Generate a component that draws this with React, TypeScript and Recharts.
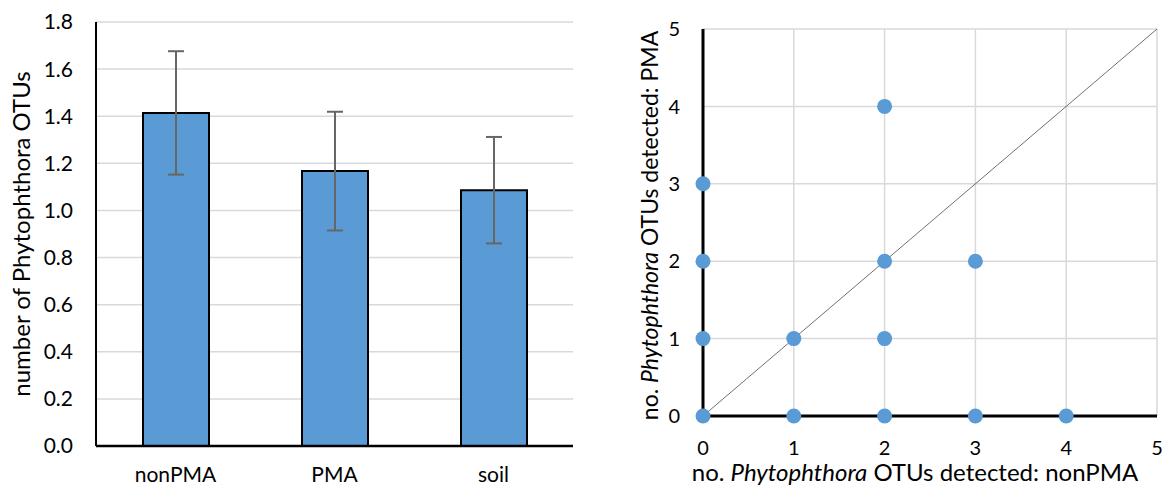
import {
  BarChart,
  Bar,
  ErrorBar,
  XAxis,
  YAxis,
  CartesianGrid,
  ScatterChart,
  Scatter,
  ReferenceLine,
  Label,
} from "recharts";

const categories = ["nonPMA", "PMA", "soil"];
const meanOtus = [1.414, 1.167, 1.086];
const seOtus = [0.262, 0.252, 0.226];
const barTicks = [0, 0.2, 0.4, 0.6, 0.8, 1.0, 1.2, 1.4, 1.6, 1.8];

const nonPmaCounts = [0, 0, 0, 0, 1, 1, 2, 2, 2, 2, 3, 3, 4];
const pmaCounts = [0, 1, 2, 3, 0, 1, 0, 1, 2, 4, 0, 2, 0];
const scatterTicks = [0, 1, 2, 3, 4, 5];

const barData = categories.map((name, i) => ({
  name,
  mean: meanOtus[i],
  se: seOtus[i],
}));

const pointData = nonPmaCounts.map((x, i) => ({ x, y: pmaCounts[i] }));

const FONT = "Lato, 'Noto Sans', sans-serif";
const BLUE = "#5B9BD5";
const GRID = "#d9d9d9";

const tickStyle = { fill: "#000", fontSize: 21, fontFamily: FONT };

const YTitle = ({ viewBox, x, shift = 0, size = 24, children }: any) => {
  const cy = viewBox.y + viewBox.height / 2 + shift;
  return (
    <text
      x={x}
      y={cy}
      transform={`rotate(-90, ${x}, ${cy})`}
      textAnchor="middle"
      dominantBaseline="central"
      fontFamily={FONT}
      fontSize={size}
      fill="#000"
    >
      {children}
    </text>
  );
};

export default function App() {
  return (
    <div
      style={{
        position: "absolute",
        left: 0,
        top: 0,
        width: 1167,
        height: 486,
        background: "#fff",
        overflow: "hidden",
      }}
    >
      <div style={{ position: "absolute", left: 0, top: 0 }}>
        <BarChart
          width={600}
          height={486}
          data={barData}
          margin={{ top: 22, right: 27, bottom: 0, left: 0 }}
        >
          <CartesianGrid vertical={false} stroke={GRID} strokeWidth={1.5} />
          <XAxis
            dataKey="name"
            height={40}
            stroke="#000"
            strokeWidth={2.5}
            tickLine={false}
            tickSize={0}
            tickMargin={21}
            tick={tickStyle}
          />
          <YAxis
            width={96}
            domain={[0, 1.8]}
            ticks={barTicks}
            tickFormatter={(v: number) => v.toFixed(1)}
            stroke="#000"
            strokeWidth={2}
            tickLine={false}
            tickSize={0}
            tickMargin={23}
            tick={tickStyle}
          >
            <Label
              content={(p: any) => (
                <YTitle viewBox={p.viewBox} x={20}>
                  number of Phytophthora OTUs
                </YTitle>
              )}
            />
          </YAxis>
          <Bar
            dataKey="mean"
            fill={BLUE}
            stroke="#000"
            strokeWidth={2}
            barSize={66}
            isAnimationActive={false}
          >
            <ErrorBar
              dataKey="se"
              width={8}
              stroke="#666"
              strokeWidth={2}
              direction="y"
            />
          </Bar>
        </BarChart>
      </div>

      <div style={{ position: "absolute", left: 600, top: 0 }}>
        <ScatterChart
          width={567}
          height={486}
          margin={{ top: 29, right: 10, bottom: 0, left: 0 }}
        >
          <CartesianGrid stroke={GRID} strokeWidth={1.5} />
          <XAxis
            type="number"
            dataKey="x"
            domain={[0, 5]}
            ticks={scatterTicks}
            height={70}
            stroke="#000"
            strokeWidth={3}
            tickLine={false}
            tickSize={0}
            tickMargin={25}
            tick={{ ...tickStyle, fontSize: 20 }}
          >
            <Label
              content={(p: any) => {
                const cx = p.viewBox.x + p.viewBox.width / 2 - 15;
                return (
                  <text
                    x={cx}
                    y={481}
                    textAnchor="middle"
                    fontFamily={FONT}
                    fontSize={24}
                    fill="#000"
                  >
                    no. <tspan fontStyle="italic">Phytophthora</tspan> OTUs
                    detected: nonPMA
                  </text>
                );
              }}
            />
          </XAxis>
          <YAxis
            type="number"
            dataKey="y"
            domain={[0, 5]}
            ticks={scatterTicks}
            width={103}
            stroke="#000"
            strokeWidth={3}
            tickLine={false}
            tickSize={0}
            tickMargin={23}
            tick={{ ...tickStyle, fontSize: 20 }}
          >
            <Label
              content={(p: any) => (
                <YTitle viewBox={p.viewBox} x={49} shift={3} size={23}>
                  no. <tspan fontStyle="italic">Phytophthora</tspan> OTUs
                  detected: PMA
                </YTitle>
              )}
            />
          </YAxis>
          <ReferenceLine
            segment={[
              { x: 0, y: 0 },
              { x: 5, y: 5 },
            ]}
            stroke="#404040"
            strokeWidth={0.75}
          />
          <Scatter
            data={pointData}
            fill={BLUE}
            isAnimationActive={false}
            shape={(p: any) => (
              <circle cx={p.cx} cy={p.cy} r={7.5} fill={BLUE} />
            )}
          />
        </ScatterChart>
      </div>
    </div>
  );
}
